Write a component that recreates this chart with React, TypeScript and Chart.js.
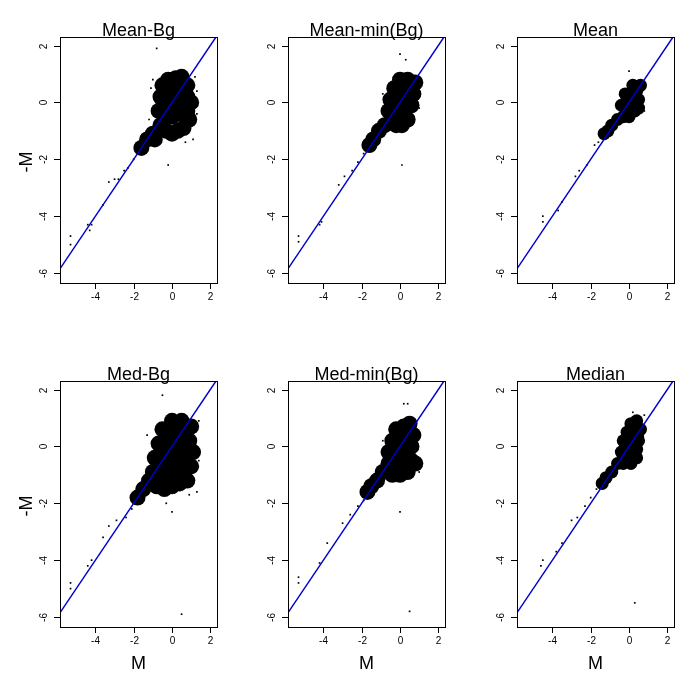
import React, { useEffect, useRef } from "react";
import { Chart, registerables } from "chart.js";
Chart.register(...registerables);

type P = [number, number];
const titles = ["Mean-Bg", "Mean-min(Bg)", "Mean", "Med-Bg", "Med-min(Bg)", "Median"];
const xTicks = [-4, -2, 0, 2];
const yTicks = [2, 0, -2, -4, -6];

const core1: P[] = [[-0.6,-0.8],[-0.3,-1.0],[0,-1.1],[0.3,-1.0],[0.6,-0.9],[0.9,-0.6],[-0.7,-0.3],[-0.4,-0.4],[0,-0.5],[0.4,-0.4],[0.8,-0.3],[1.0,0],[-0.6,0.2],[-0.3,0.1],[0,0],[0.4,0],[0.8,0.2],[-0.5,0.6],[-0.2,0.5],[0.1,0.5],[0.5,0.6],[0.8,0.6],[-0.2,0.8],[0.2,0.85],[0.5,0.9],[-1.0,-1.1],[-1.3,-1.3],[-1.6,-1.6],[-0.9,-1.3],[0.2,-0.25],[-0.2,-0.2],[0.6,0.35],[0.2,0.25],[-0.45,-0.1]];
const out1: P[] = [[-2.0,-2.0],[-2.3,-2.3],[-2.5,-2.4],[-2.8,-2.7],[-3.3,-2.8],[-3.0,-2.7],[-3.6,-3.6],[-4.2,-4.3],[-4.4,-4.3],[-4.3,-4.5],[-5.3,-4.7],[-5.3,-5.0],[-0.8,1.9],[-0.2,-2.2],[1.1,-1.3],[1.2,0.9],[-1.1,0.5],[1.3,-0.4],[-1.0,0.8],[0.7,-1.4],[-1.2,-0.6],[1.3,0.4]];
const core2: P[] = [[-0.5,-0.7],[-0.2,-0.8],[0.1,-0.8],[0.4,-0.6],[-0.6,-0.3],[-0.3,-0.3],[0,-0.3],[0.3,-0.2],[0.6,-0.1],[-0.5,0.1],[-0.2,0.1],[0.1,0.1],[0.4,0.2],[0.7,0.3],[-0.3,0.5],[0,0.5],[0.3,0.5],[0.6,0.6],[0,0.8],[0.4,0.8],[-0.8,-0.8],[-1.1,-1.0],[-1.4,-1.3],[-1.6,-1.5],[0.8,0.7],[-0.1,-0.55],[0.2,-0.45],[0.15,0.3],[-0.15,0.3]];
const out2: P[] = [[-5.3,-4.7],[-5.3,-4.9],[-4.2,-4.3],[-4.1,-4.2],[-3.2,-2.9],[-2.9,-2.6],[-2.5,-2.4],[-2.2,-2.1],[-1.9,-1.8],[0,1.7],[0.1,-2.2],[0.3,1.5],[1.0,-0.2],[-0.9,0.3]];
const core3: P[] = [[-0.3,-0.5],[0,-0.5],[0.3,-0.3],[-0.4,-0.1],[-0.1,-0.1],[0.2,0],[0.5,0.1],[-0.2,0.3],[0.1,0.3],[0.4,0.4],[0.6,0.6],[0.2,0.6],[-0.6,-0.6],[-0.9,-0.8],[-1.1,-1.0],[-1.3,-1.1],[0.5,-0.2],[0.1,-0.3],[0.35,0.2]];
const out3: P[] = [[-4.5,-4.0],[-4.5,-4.2],[-3.7,-3.8],[-3.5,-3.5],[-2.8,-2.6],[-2.6,-2.4],[-2.2,-2.2],[-1.8,-1.5],[0,1.1],[-1.6,-1.4],[0.8,-0.3]];
const core4: P[] = [[-0.8,-1.4],[-0.4,-1.5],[0,-1.4],[0.4,-1.3],[0.8,-1.2],[-1.0,-0.9],[-0.6,-0.9],[-0.2,-0.9],[0.2,-0.8],[0.6,-0.8],[1.0,-0.7],[-0.9,-0.4],[-0.5,-0.4],[-0.1,-0.4],[0.3,-0.3],[0.7,-0.3],[1.1,-0.2],[-0.7,0.1],[-0.3,0.1],[0.1,0.1],[0.5,0.1],[0.9,0.2],[-0.5,0.6],[-0.1,0.6],[0.3,0.6],[0.7,0.6],[1.0,0.7],[0,0.9],[0.5,0.9],[-1.2,-1.2],[-1.5,-1.5],[-1.8,-1.8],[-0.4,-1.15],[0,-1.15],[0.4,-1.05],[-0.7,-0.65],[-0.3,-0.65],[0.1,-0.6],[0.5,-0.55],[-0.5,-0.15],[-0.1,-0.15],[0.3,-0.05],[0.7,-0.05],[-0.3,0.35],[0.1,0.35],[0.5,0.35]];
const out4: P[] = [[-5.3,-4.8],[-5.3,-5.0],[-4.4,-4.2],[-4.2,-4.0],[-3.6,-3.2],[-3.3,-2.8],[-2.9,-2.6],[-2.4,-2.5],[-2.1,-2.2],[-0.5,1.8],[0.5,-5.9],[1.4,-0.5],[0,-2.3],[1.3,-1.6],[-0.3,-2.0],[-1.3,0.4],[1.4,0.9],[0.9,-1.7]];
const core5: P[] = [[-0.4,-1.0],[0,-1.0],[0.4,-0.9],[-0.6,-0.6],[-0.2,-0.6],[0.2,-0.5],[0.6,-0.5],[-0.6,-0.2],[-0.2,-0.2],[0.2,-0.1],[0.6,0],[-0.4,0.2],[0,0.3],[0.4,0.3],[0.7,0.4],[-0.2,0.6],[0.2,0.7],[0.5,0.8],[-0.9,-0.9],[-1.2,-1.2],[-1.5,-1.4],[-1.7,-1.6],[0.8,-0.6],[0,-0.8],[0.4,-0.7],[-0.4,-0.4],[0,-0.4],[0.4,-0.3],[-0.2,0],[0.2,0.1],[0,0.5],[0.4,0.55]];
const out5: P[] = [[-5.3,-4.6],[-5.3,-4.8],[-4.2,-4.1],[-3.8,-3.4],[-3.0,-2.7],[-2.6,-2.4],[-2.2,-2.1],[-1.9,-1.9],[0.2,1.5],[0.4,1.5],[0,-2.3],[0.5,-5.8],[1.0,-0.9],[-0.9,0.2]];
const core6: P[] = [[-0.3,-0.6],[0.1,-0.6],[0.4,-0.4],[-0.4,-0.2],[0,-0.2],[0.4,-0.1],[-0.3,0.2],[0.1,0.2],[0.5,0.2],[-0.1,0.5],[0.3,0.5],[0.6,0.6],[0.1,0.8],[0.4,0.9],[-0.6,-0.6],[-0.9,-0.9],[-1.2,-1.1],[-1.4,-1.3],[-0.1,-0.4],[0.2,-0.3],[-0.1,0],[0.3,0.05],[0.1,0.35],[0.45,0.35]];
const out6: P[] = [[-4.6,-4.2],[-4.5,-4.0],[-3.8,-3.7],[-3.5,-3.4],[-3.0,-2.6],[-2.7,-2.5],[-2.3,-2.1],[-2.0,-1.8],[0.3,-5.5],[0.2,1.2],[-1.7,-1.5],[0.8,1.1]];

const cores = [core1, core2, core3, core4, core5, core6];
const outs = [out1, out2, out3, out4, out5, out6];
const cols: [number, number][] = [[60, 217], [288, 445], [517, 674]];
const rows: [number, number][] = [[37, 283], [381, 627]];
const W = 689, H = 688;

const toXY = (a: P[]) => a.map(([x, y]) => ({ x, y }));

function Panel({ i }: { i: number }) {
  const ref = useRef<HTMLCanvasElement>(null);
  useEffect(() => {
    const c = i % 3, r = Math.floor(i / 3);
    const [l, rt] = cols[c];
    const [t, b] = rows[r];
    const deco = {
      id: "deco",
      afterDraw(ch: any) {
        const ctx = ch.ctx as CanvasRenderingContext2D;
        const a = ch.chartArea;
        const xs = ch.scales.x, ys = ch.scales.y;
        ctx.save();
        ctx.strokeStyle = "#000"; ctx.lineWidth = 1;
        ctx.strokeRect(a.left + 0.5, a.top + 0.5, a.right - a.left, a.bottom - a.top);
        ctx.fillStyle = "#000";
        ctx.font = "10px Arial, 'Liberation Sans'";
        ctx.textAlign = "center"; ctx.textBaseline = "top";
        xTicks.forEach((v) => {
          const px = Math.round(xs.getPixelForValue(v)) + 0.5;
          ctx.beginPath(); ctx.moveTo(px, a.bottom); ctx.lineTo(px, a.bottom + 6); ctx.stroke();
          ctx.fillText(String(v), px, a.bottom + 9);
        });
        yTicks.forEach((v) => {
          const py = Math.round(ys.getPixelForValue(v)) + 0.5;
          ctx.beginPath(); ctx.moveTo(a.left, py); ctx.lineTo(a.left - 6, py); ctx.stroke();
          ctx.save(); ctx.translate(a.left - 16, py); ctx.rotate(-Math.PI / 2);
          ctx.textBaseline = "middle"; ctx.fillText(String(v), 0, 0); ctx.restore();
        });
        ctx.font = "18px Arial, 'Liberation Sans'";
        ctx.textBaseline = "alphabetic";
        ctx.fillText(titles[i], (a.left + a.right) / 2, a.top - 1);
        if (r === 1) ctx.fillText("M", (a.left + a.right) / 2, a.bottom + 42);
        if (c === 0) {
          ctx.save(); ctx.translate(a.left - 28, (a.top + a.bottom) / 2 + 2); ctx.rotate(-Math.PI / 2);
          ctx.fillText("-M", 0, 0); ctx.restore();
        }
        ctx.restore();
      },
    };
    const compact = i === 2 || i === 5;
    const chart = new Chart(ref.current!, {
      type: "scatter",
      data: {
        datasets: [
          { type: "line", order: -1, data: [{ x: -7, y: -7 }, { x: 3, y: 3 }], borderColor: "#0000cc", borderWidth: 1.5, pointRadius: 0 } as any,
          { data: toXY(cores[i]), backgroundColor: "#000", borderWidth: 0, pointRadius: compact ? 6.5 : 8 },
          { data: toXY(outs[i]), backgroundColor: "#000", borderWidth: 0, pointRadius: 1.2, pointStyle: "rect" },
        ],
      },
      options: {
        animation: false, responsive: false, devicePixelRatio: 1,
        layout: { padding: { left: l, right: W - rt, top: t, bottom: H - b } },
        plugins: { legend: { display: false }, tooltip: { enabled: false } },
        scales: {
          x: { type: "linear", min: -5.85, max: 2.35, display: false },
          y: { type: "linear", min: -6.35, max: 2.3, display: false },
        },
      },
      plugins: [deco],
    });
    return () => chart.destroy();
  }, [i]);
  return <canvas ref={ref} width={W} height={H} style={{ position: "absolute", left: 0, top: 0 }} />;
}

export default function App() {
  return (
    <div style={{ position: "fixed", left: 0, top: 0, width: W, height: H, background: "#fff" }}>
      {[0, 1, 2, 3, 4, 5].map((i) => <Panel key={i} i={i} />)}
    </div>
  );
}
